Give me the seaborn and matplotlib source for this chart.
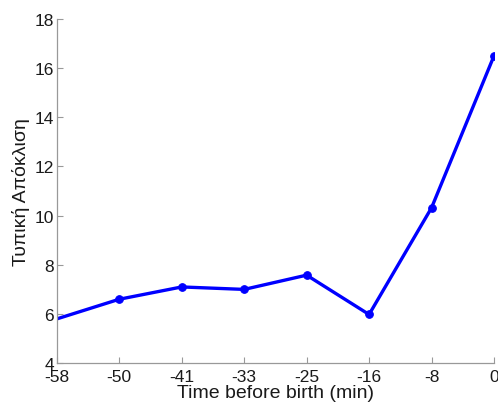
import numpy as np
import pandas as pd
import matplotlib
matplotlib.use("Agg")
import matplotlib.pyplot as plt
import seaborn as sns

# Values
time_labels = ["-58", "-50", "-41", "-33", "-25", "-16", "-8", "0"]
std_values = [5.8, 6.6, 7.1, 7.0, 7.58, 5.98, 10.32, 16.5]

df = pd.DataFrame({"pos": np.arange(len(time_labels)), "std": std_values})

sns.set_style("white")
plt.rcParams['font.family'] = ['Liberation Sans', 'DejaVu Sans']

fig = plt.figure(figsize=(4.98, 4.06), dpi=100)
ax = fig.add_axes([0.114, 0.103, 0.878, 0.848])

# first marker sits on the y axis and is hidden in the original
sns.lineplot(data=df, x="pos", y="std", ax=ax, color="#0000ff", linewidth=2.4,
             marker="o", markersize=5.5, markeredgecolor="#0000ff",
             markevery=list(range(1, len(df))))

ax.set_xlim(0, len(time_labels) - 1)
ax.set_ylim(4, 18)
ax.set_xticks(df["pos"])
ax.set_xticklabels(time_labels)
ax.set_yticks(range(4, 19, 2))

for side in ["top", "right"]:
    ax.spines[side].set_visible(False)
for side in ["left", "bottom"]:
    ax.spines[side].set_color("#999999")
    ax.spines[side].set_linewidth(0.9)

ax.tick_params(direction="in", length=4, width=0.8, color="#999999",
               labelsize=12.5, labelcolor="#1a1a1a", left=True, bottom=True)
ax.tick_params(axis="x", pad=4)
ax.tick_params(axis="y", pad=2)

ax.set_xlabel("Time before birth (min)", fontsize=14, color="#1a1a1a", labelpad=0)
ax.set_ylabel("Τυπική Απόκλιση", fontsize=14, color="#1a1a1a", labelpad=3)

plt.savefig("out.png", dpi=100)
